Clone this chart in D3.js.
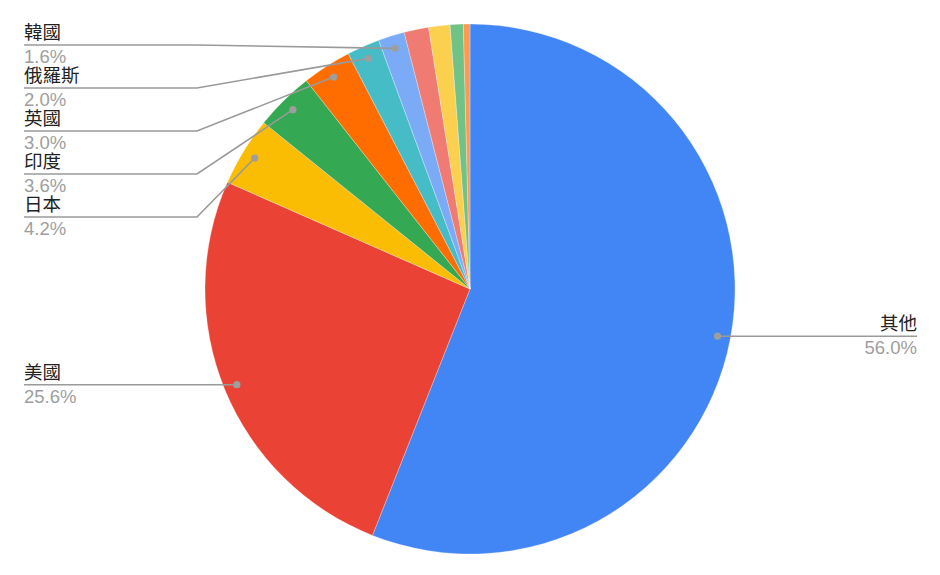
<!DOCTYPE html>
<html>
<head>
<meta charset="utf-8">
<script src="https://cdn.jsdelivr.net/npm/d3@7"></script>
<style>
  html, body { margin: 0; padding: 0; background: #fff; }
  svg { display: block; }
  text { font-family: "Liberation Sans", Arial, "Noto Sans CJK TC", sans-serif; }
</style>
</head>
<body>
<svg id="chart" width="940" height="575"></svg>
<script>
// ---- data ----
const categories = ["其他", "美國", "日本", "印度", "英國", "俄羅斯", "韓國", "未標示A", "未標示B", "未標示C", "未標示D"];
const shares = [56.0, 25.6, 4.2, 3.6, 3.0, 2.0, 1.6, 1.5, 1.3, 0.8, 0.4];
const colors = ["#4285F4", "#EA4335", "#FBBC04", "#34A853", "#FF6D01", "#46BDC6", "#7BAAF7", "#F07B72", "#FCD04F", "#71C287", "#FF994D"];
const labelThreshold = 1.6;

// ---- layout ----
const W = 940, H = 575;
const cx = 470, cy = 289, R = 265;
const dotR = 252;
const leftX = 24, rightX = 917;
const elbowGap = 8;
const labelSpacing = 43;
const minLineY = 45, maxLineY = H - 30;
const fontSize = 18.5;

const svg = d3.select("#chart");
const data = categories.map((c, i) => ({ name: c, value: shares[i], color: colors[i] }));

const pie = d3.pie().sort(null).value(d => d.value).startAngle(0).endAngle(2 * Math.PI);
const arcs = pie(data);
const arc = d3.arc().innerRadius(0).outerRadius(R);
const dotArc = d3.arc().innerRadius(dotR).outerRadius(dotR);

const g = svg.append("g").attr("transform", `translate(${cx},${cy})`);
g.selectAll("path.slice")
  .data(arcs)
  .join("path")
  .attr("class", "slice")
  .attr("d", arc)
  .attr("fill", d => d.data.color)
  .attr("stroke", "#ffffff")
  .attr("stroke-opacity", 0.35)
  .attr("stroke-width", 0.8);

// labels
const fmt = v => v.toFixed(1) + "%";
const labeled = arcs.filter(a => a.data.value >= labelThreshold).map(a => {
  const [dx, dy] = dotArc.centroid(a);
  return { a, dotX: cx + dx, dotY: cy + dy, side: dx < 0 ? "left" : "right", y: cy + dy };
});

function relax(items) {
  items.sort((p, q) => p.y - q.y);
  for (let iter = 0; iter < 500; iter++) {
    let moved = false;
    for (let i = 1; i < items.length; i++) {
      const over = labelSpacing - (items[i].y - items[i - 1].y);
      if (over > 0.01) {
        items[i - 1].y -= over / 2;
        items[i].y += over / 2;
        moved = true;
      }
    }
    items.forEach(it => { it.y = Math.max(minLineY, Math.min(maxLineY, it.y)); });
    if (!moved) break;
  }
}
relax(labeled.filter(l => l.side === "left"));
relax(labeled.filter(l => l.side === "right"));

const lg = svg.append("g");
labeled.forEach(l => {
  const left = l.side === "left";
  const tx = left ? leftX : rightX;
  const ex = left ? cx - R - elbowGap : cx + R + elbowGap;
  const pts = [[tx, l.y], [ex, l.y], [l.dotX, l.dotY]];
  lg.append("path")
    .attr("d", d3.line()(pts))
    .attr("fill", "none")
    .attr("stroke", "#9a9a9a")
    .attr("stroke-width", 1.6);
  lg.append("circle")
    .attr("cx", l.dotX).attr("cy", l.dotY).attr("r", 3.6)
    .attr("fill", "#9e9e9e");
  lg.append("text")
    .attr("x", tx).attr("y", l.y - 6)
    .attr("text-anchor", left ? "start" : "end")
    .attr("font-size", fontSize)
    .attr("fill", "#222222")
    .text(l.a.data.name);
  lg.append("text")
    .attr("x", tx).attr("y", l.y + 18)
    .attr("text-anchor", left ? "start" : "end")
    .attr("font-size", fontSize)
    .attr("fill", "#9e9e9e")
    .text(fmt(l.a.data.value));
});
</script>
</body>
</html>
